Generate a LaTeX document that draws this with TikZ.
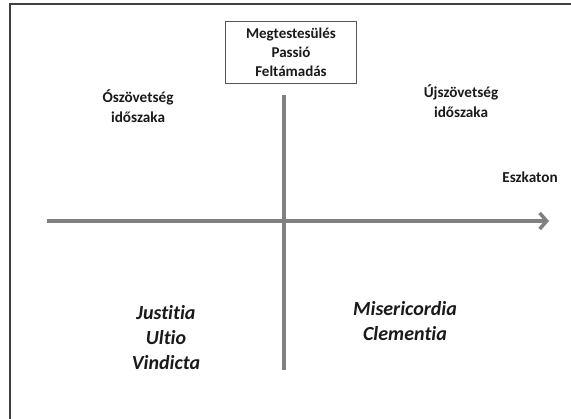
\documentclass[tikz,border=0pt]{standalone}
\usepackage{fontspec}
\setmainfont[RawFeature=-liga]{Carlito}
\usetikzlibrary{arrows.meta}
\definecolor{axisgray}{HTML}{808080}
\definecolor{framegray}{HTML}{404040}
\definecolor{boxgray}{HTML}{555555}
\definecolor{txt}{HTML}{1A1A1A}
\begin{document}
\begin{tikzpicture}[x=1pt,y=-1pt,
  lbl/.style={align=center,text=txt,font=\fontsize{15.2}{19.5}\selectfont\bfseries,inner sep=0pt},
  big/.style={align=center,text=txt,font=\fontsize{20}{25}\selectfont\bfseries\itshape,inner sep=0pt},
  axis/.style={draw=axisgray,line width=3.5pt},
  eventbox/.style={draw=boxgray,line width=1.3pt,minimum width=131pt,minimum height=62pt,align=center,text=txt,font=\fontsize{15}{19}\selectfont\bfseries,inner sep=0pt}]
\useasboundingbox[fill=white] (0,0) rectangle (571,419);
\draw[framegray,line width=1.4pt] (571,4) -- (10,4) -- (10,419);
\node[eventbox] (box) at (291,52.5) {Megtestesülés\\Passió\\Feltámadás};
\coordinate (vtop) at (284,95);
\coordinate (vbot) at (284,370);
\coordinate (hleft) at (47,221);
\coordinate (hright) at (549,221);
\draw[axis] (vtop) -- (vbot);
\draw[axis,-{Straight Barb[length=7pt,width=16pt,line width=3.5pt]}] (hleft) -- (hright);
\node[lbl] (old) at (138,106) {Ószövetség\\időszaka};
\node[lbl] (new) at (461,101) {Újszövetség\\időszaka};
\node[lbl] (esk) at (530,177) {Eszkaton};
\node[big] (just) at (166,338) {Justitia\\Ultio\\Vindicta};
\node[big] (mis) at (405,321.5) {Misericordia\\Clementia};
\end{tikzpicture}
\end{document}
